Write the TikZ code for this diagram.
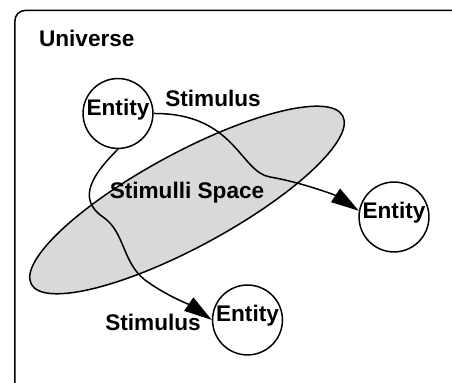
\documentclass[tikz,border=0pt]{standalone}
\usepackage{fontspec}
\setmainfont{Liberation Sans}
\usetikzlibrary{shapes.geometric,arrows.meta}

\begin{document}
\begin{tikzpicture}[
        x=0.5pt, y=-0.5pt,
        every node/.style={font=\fontsize{11.3}{13}\selectfont\bfseries},
        entity/.style={draw, circle, line width=0.75pt, minimum size=34.5pt, inner sep=0pt, text height=8.5pt, text depth=6.9pt},
        space/.style={draw, ellipse, line width=0.75pt, fill=black!15, minimum width=177pt, minimum height=47pt, inner sep=0pt, rotate=28.4},
        stimulus/.style={draw, line width=0.75pt, -{Triangle[length=14pt, width=8pt]}}
    ]
        \useasboundingbox (0,0) rectangle (452,383);

        % universe frame
        \coordinate (ubottom) at (15,383);
        \coordinate (uright) at (452,10.5);
        \draw[line width=0.75pt, rounded corners=5pt] (ubottom) |- (uright);
        \node[anchor=west] (universe) at (32,38) {Universe};

        % stimulli space
        \node[space] (space) at (187,200) {};
        \node (spacetext) at (187,193) {Stimulli Space};

        % entities
        \node[entity] (e1) at (118,113.5) {Entity};
        \node[entity] (e2) at (394,217) {Entity};
        \node[entity] (e3) at (247.5,320) {Entity};

        % stimuli
        \draw[stimulus] (e1.east) .. controls (235,113) and (240,172) .. (270,177)
            .. controls (300,182) and (335,195) .. (e2.170);
        \draw[stimulus] (e1.south) .. controls (95,172) and (75,198) .. (103,217)
            .. controls (125,232) and (122,262) .. (145,280)
            .. controls (165,295) and (190,305) .. (e3.west);

        \node (s1) at (213,98) {Stimulus};
        \node (s2) at (153,322) {Stimulus};
    \end{tikzpicture}
\end{document}
